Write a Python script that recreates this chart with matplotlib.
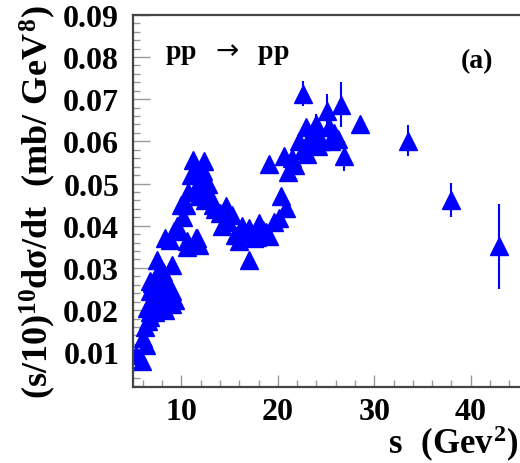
import matplotlib
matplotlib.use('Agg')
import matplotlib.pyplot as plt
from matplotlib.ticker import MultipleLocator
import numpy as np

plt.rcParams['mathtext.fontset'] = 'custom'
plt.rcParams['mathtext.rm'] = 'Liberation Serif:bold'
plt.rcParams['mathtext.it'] = 'Liberation Serif:bold'
plt.rcParams['mathtext.bf'] = 'Liberation Serif:bold'
plt.rcParams['mathtext.sf'] = 'DejaVu Sans:normal'
plt.rcParams['font.family'] = ['Liberation Serif', 'DejaVu Serif']
plt.rcParams['font.weight'] = 'bold'

# s (GeV^2), scaled cross section (mb/GeV^8), error
s_low = [5.3, 5.9, 6.3, 6.0, 6.2, 6.5, 6.7, 6.4, 6.9, 7.1, 6.8, 7.3, 7.0, 6.8,
         7.5, 7.8, 7.5, 8.1, 8.4, 8.6, 8.8, 9.0, 7.6, 8.0, 7.3, 9.0, 9.0, 8.3,
         7.9, 9.3, 6.7]
y_low = [0.0094, 0.0080, 0.0118, 0.0135, 0.0160, 0.0175, 0.0195, 0.0205,
         0.0215, 0.0230, 0.0245, 0.0255, 0.0265, 0.0269, 0.0280, 0.0300,
         0.0318, 0.0290, 0.0270, 0.0250, 0.0230, 0.0215, 0.0220, 0.0235,
         0.0195, 0.0307, 0.0245, 0.0200, 0.0210, 0.0224, 0.0184]

s_mid = [8.3, 9.2, 10.6, 11.6, 9.5, 10.2, 10.5, 10.7, 11.0, 11.2, 11.5, 11.8,
         12.0, 12.3, 12.5, 12.8, 13.0, 13.3, 12.2, 11.4, 13.5, 14.0, 10.6,
         11.8, 8.8, 9.6, 10.0, 11.5]
y_mid = [0.0370, 0.0387, 0.0364, 0.0370, 0.0400, 0.0420, 0.0450, 0.0480,
         0.0520, 0.0555, 0.0490, 0.0470, 0.0510, 0.0553, 0.0460, 0.0500,
         0.0470, 0.0450, 0.0530, 0.0530, 0.0440, 0.0430, 0.0350, 0.0355,
         0.0366, 0.0390, 0.0450, 0.0370]

s_dip = [14.6, 15.3, 14.2, 16.0, 17.0, 18.0, 17.0, 19.1, 15.6, 16.5, 17.5,
         18.5, 16.3, 17.8, 14.8, 18.8]
y_dip = [0.0446, 0.0425, 0.0400, 0.0364, 0.0394, 0.0406, 0.0319, 0.0375,
         0.0377, 0.0380, 0.0370, 0.0390, 0.0400, 0.0373, 0.0410, 0.0385]

s_rise = [19.1, 20.3, 20.8, 20.1, 19.6, 21.1, 20.6, 21.5, 21.8]
y_rise = [0.0546, 0.0470, 0.0442, 0.0418, 0.0409, 0.0527, 0.0565, 0.0560,
          0.0545]

s_top = [22.6, 26.5, 25.1, 28.5, 26.9, 22.9, 23.5, 24.0, 24.5, 25.3, 25.8,
         24.2, 23.3, 22.6, 26.2, 24.0, 22.2, 23.0, 25.5]
y_top = [0.0713, 0.0687, 0.0672, 0.0640, 0.0565, 0.0635, 0.0620, 0.0610,
         0.0600, 0.0635, 0.0620, 0.0590, 0.0595, 0.0580, 0.0605, 0.0640,
         0.0600, 0.0570, 0.0600]
e_top = [0.0030, 0.0053, 0.0040, 0.0015, 0.0035, 0.0015, 0.0015, 0.0015,
         0.0015, 0.0015, 0.0015, 0.0015, 0.0015, 0.0015, 0.0015, 0.0025,
         0.0015, 0.0015, 0.0015]

s_high = [33.5, 38.0, 42.9]
y_high = [0.0602, 0.0461, 0.0351]
e_high = [0.0037, 0.0040, 0.0101]

s = np.array(s_low + s_mid + s_dip + s_rise + s_top + s_high)
y = np.array(y_low + y_mid + y_dip + y_rise + y_top + y_high)
err = np.array([0.0012] * len(s_low) + [0.0012] * len(s_mid)
               + [0.0012] * len(s_dip) + [0.0012] * len(s_rise)
               + e_top + e_high)

fig = plt.figure(figsize=(5.2, 4.64), dpi=100)
ax = fig.add_axes([0.256, 0.164, 0.742, 0.802])

ax.errorbar(s, y, yerr=err, fmt='^', color='#0000ff', ms=13.5,
            mec='#0000ff', elinewidth=1.5, capsize=0)

ax.set_xlim(5, 45)
ax.set_ylim(0.0018, 0.09)
ax.xaxis.set_major_locator(MultipleLocator(10))
ax.xaxis.set_minor_locator(MultipleLocator(2))
ax.yaxis.set_minor_locator(MultipleLocator(0.002))
ax.set_yticks([0.01, 0.02, 0.03, 0.04, 0.05, 0.06, 0.07, 0.08, 0.09])
ax.set_yticklabels(['0.01', '0.02', '0.03', '0.04', '0.05', '0.06', '0.07',
                    '0.08', '0.09'])

ax.tick_params(axis='both', which='both', direction='in', color='#999999',
               width=1, labelsize=23)
ax.tick_params(axis='x', which='major', length=9, pad=7)
ax.tick_params(axis='y', which='major', length=12, pad=10)
ax.tick_params(axis='both', which='minor', length=5)
for lab in ax.get_xticklabels() + ax.get_yticklabels():
    lab.set_fontweight('bold')

for side in ['left', 'bottom', 'top', 'right']:
    ax.spines[side].set_linewidth(1.6)
    ax.spines[side].set_color('#444444')
ax.spines['right'].set_visible(False)

ax.set_ylabel(r'$(s/10)^{10}d\sigma/dt\ \ (mb/\ GeV^{8})$', fontsize=26,
              labelpad=4)
ax.set_xlabel(r'$s\ \ (Gev^{2})$', fontsize=25, loc='right', labelpad=-2)

ax.text(0.083, 0.895, r'pp $\ \mathsf{\rightarrow}\ $ pp',
        transform=ax.transAxes, fontsize=20, fontweight='bold',
        va='center', ha='left')
ax.text(0.89, 0.876, '(a)', transform=ax.transAxes, fontsize=20,
        fontweight='bold', va='center', ha='center')

fig.savefig('out.png', dpi=100)
